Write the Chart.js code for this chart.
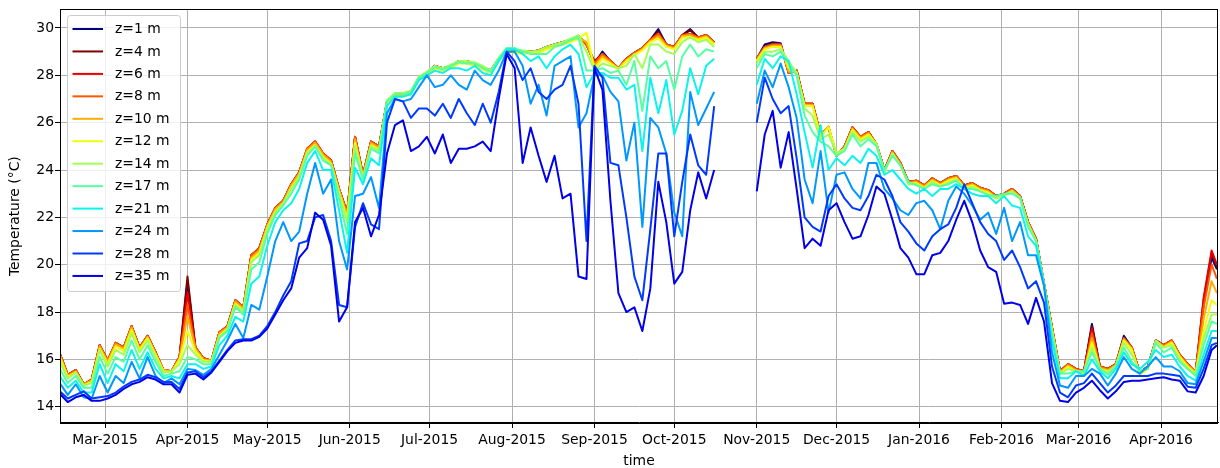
<!DOCTYPE html>
<html>
<head>
<meta charset="utf-8">
<title>Temperature profile</title>
<style>
  html, body { margin: 0; padding: 0; background: #fff; }
  #wrap { width: 1220px; height: 468px; }
</style>
<script src="https://cdn.jsdelivr.net/npm/chart.js@4.4.1/dist/chart.umd.min.js"></script>
</head>
<body>
<div id="wrap"><canvas id="plot" width="1220" height="468"></canvas></div>
<script>
// days counted from 1 Mar 2015 (sampled every 3 days, gap late Oct 2015)
const days = [
  -17, -14, -11, -8, -5, -2, 1, 4, 7, 10,
  13, 16, 19, 22, 25, 28, 31, 34, 37, 40,
  43, 46, 49, 52, 55, 58, 61, 64, 67, 70,
  73, 76, 79, 82, 85, 88, 91, 94, 97, 100,
  103, 106, 109, 112, 115, 118, 121, 124, 127, 130,
  133, 136, 139, 142, 145, 148, 151, 154, 157, 160,
  163, 166, 169, 172, 175, 178, 181, 184, 187, 190,
  193, 196, 199, 202, 205, 208, 211, 214, 217, 220,
  223, 226, 229,
  237,
  245, 248, 251, 254, 257, 260, 263, 266, 269, 272,
  275, 278, 281, 284, 287, 290, 293, 296, 299, 302,
  305, 308, 311, 314, 317, 320, 323, 326, 329, 332,
  335, 338, 341, 344, 347, 350, 353, 356, 359, 362,
  365, 368, 371, 374, 377, 380, 383, 386, 389, 392,
  395, 398, 401, 404, 407, 410, 413, 416, 418
];

const monthDays = [0, 31, 61, 92, 122, 153, 184, 214, 245, 275, 306, 337, 366, 397];
const monthLabels = ['Mar-2015', 'Apr-2015', 'May-2015', 'Jun-2015', 'Jul-2015', 'Aug-2015',
  'Sep-2015', 'Oct-2015', 'Nov-2015', 'Dec-2015', 'Jan-2016', 'Feb-2016', 'Mar-2016', 'Apr-2016'];
const tempTicks = [14, 16, 18, 20, 22, 24, 26, 28, 30];

const depths = ['z=1 m', 'z=4 m', 'z=6 m', 'z=8 m', 'z=10 m', 'z=12 m',
  'z=14 m', 'z=17 m', 'z=21 m', 'z=24 m', 'z=28 m', 'z=35 m'];
const colors = ['#000080', '#800000', '#e90000', '#ff5700', '#ffad00', '#ecff0b',
  '#a1ff56', '#56ffa1', '#0bf3ec', '#0097ff', '#003aff', '#0000e9'];

const z1 = [
  16.25, 15.35, 15.55, 14.95, 15.15, 16.6, 15.95, 16.7, 16.5, 17.4,
  16.5, 17.0, 16.3, 15.55, 15.5, 16.1, 19.3, 16.5, 16.05, 15.95,
  17.15, 17.4, 18.5, 18.2, 20.4, 20.7, 21.7, 22.4, 22.7, 23.4,
  23.9, 24.9, 25.2, 24.7, 24.4, 23.2, 22.2, 25.4, 23.8, 25.2,
  25.0, 26.9, 27.2, 27.2, 27.3, 27.9, 28.1, 28.4, 28.3, 28.4,
  28.6, 28.6, 28.5, 28.35, 28.2, 28.7, 29.1, 29.0, 29.0, 29.0,
  29.05, 29.2, 29.3, 29.4, 29.5, 29.65, 29.3, 28.5, 29.0, 28.6,
  28.3, 28.7, 28.95, 29.15, 29.5, 29.95, 29.3, 29.2, 29.7, 29.95,
  29.6, 29.7, 29.4,
  null,
  28.7, 29.3, 29.4, 29.35, 28.1, 28.2, 26.8, 26.8, 25.5, 25.8,
  24.6, 25.0, 25.8, 25.4, 25.6, 25.1, 24.0, 24.8, 24.3, 23.5,
  23.55, 23.35, 23.65, 23.45, 23.65, 23.75, 23.35, 23.45, 23.25, 23.15,
  22.9, 23.0, 23.2, 22.9, 21.8, 21.1, 19.2, 17.35, 15.5, 15.8,
  15.6, 15.5, 17.5, 15.7, 15.6, 15.8, 17.0, 16.5, 15.45, 15.7,
  16.8, 16.6, 16.8, 16.2, 15.8, 15.45, 18.3, 20.3, 19.8
];
const z4 = [
  16.25, 15.35, 15.55, 14.95, 15.15, 16.6, 15.95, 16.7, 16.5, 17.4,
  16.5, 17.0, 16.3, 15.55, 15.5, 16.1, 19.5, 16.5, 16.05, 15.95,
  17.15, 17.4, 18.5, 18.2, 20.4, 20.7, 21.7, 22.4, 22.7, 23.4,
  23.9, 24.9, 25.2, 24.7, 24.4, 23.2, 22.2, 25.4, 23.8, 25.2,
  25.0, 26.9, 27.2, 27.2, 27.3, 27.9, 28.1, 28.4, 28.3, 28.4,
  28.6, 28.6, 28.5, 28.35, 28.2, 28.7, 29.1, 29.0, 29.0, 29.0,
  29.05, 29.2, 29.3, 29.4, 29.5, 29.65, 29.3, 28.6, 28.9, 28.6,
  28.3, 28.7, 28.95, 29.15, 29.5, 29.85, 29.3, 29.2, 29.7, 29.9,
  29.6, 29.7, 29.4,
  null,
  28.7, 29.2, 29.35, 29.3, 28.1, 28.2, 26.8, 26.8, 25.5, 25.8,
  24.6, 25.0, 25.8, 25.4, 25.6, 25.1, 24.0, 24.8, 24.3, 23.5,
  23.55, 23.35, 23.65, 23.45, 23.65, 23.75, 23.35, 23.45, 23.25, 23.15,
  22.9, 23.0, 23.2, 22.9, 21.8, 21.1, 19.2, 17.35, 15.5, 15.8,
  15.6, 15.5, 17.4, 15.7, 15.6, 15.8, 16.9, 16.5, 15.45, 15.7,
  16.8, 16.6, 16.8, 16.2, 15.8, 15.45, 18.5, 20.5, 19.9
];
const z6 = [
  16.25, 15.35, 15.55, 14.95, 15.15, 16.6, 15.95, 16.7, 16.5, 17.4,
  16.5, 17.0, 16.3, 15.55, 15.5, 16.1, 18.8, 16.5, 16.05, 15.95,
  17.15, 17.4, 18.5, 18.2, 20.4, 20.7, 21.7, 22.4, 22.7, 23.4,
  23.9, 24.9, 25.2, 24.7, 24.4, 23.2, 22.2, 25.4, 23.8, 25.2,
  25.0, 26.9, 27.2, 27.2, 27.3, 27.9, 28.1, 28.4, 28.3, 28.4,
  28.6, 28.6, 28.5, 28.35, 28.2, 28.7, 29.1, 29.0, 29.0, 29.0,
  29.05, 29.2, 29.3, 29.4, 29.5, 29.65, 29.3, 28.55, 28.9, 28.6,
  28.3, 28.7, 28.95, 29.15, 29.5, 29.75, 29.3, 29.2, 29.7, 29.75,
  29.6, 29.7, 29.4,
  null,
  28.7, 29.2, 29.3, 29.3, 28.1, 28.2, 26.8, 26.8, 25.5, 25.8,
  24.6, 25.0, 25.8, 25.4, 25.6, 25.1, 24.0, 24.8, 24.3, 23.5,
  23.55, 23.35, 23.65, 23.45, 23.65, 23.75, 23.35, 23.45, 23.25, 23.15,
  22.9, 23.0, 23.2, 22.9, 21.8, 21.1, 19.2, 17.35, 15.5, 15.8,
  15.6, 15.5, 17.3, 15.7, 15.6, 15.8, 16.9, 16.5, 15.45, 15.7,
  16.8, 16.6, 16.8, 16.2, 15.8, 15.45, 18.6, 20.6, 20.0
];
const z8 = [
  16.25, 15.35, 15.55, 14.95, 15.15, 16.6, 15.95, 16.7, 16.5, 17.4,
  16.5, 17.0, 16.3, 15.55, 15.5, 16.1, 18.3, 16.5, 16.05, 15.95,
  17.15, 17.4, 18.5, 18.2, 20.4, 20.7, 21.7, 22.4, 22.7, 23.4,
  23.9, 24.9, 25.2, 24.7, 24.4, 23.2, 22.2, 25.4, 23.8, 25.2,
  25.0, 26.9, 27.2, 27.2, 27.3, 27.9, 28.1, 28.4, 28.3, 28.4,
  28.6, 28.6, 28.5, 28.35, 28.2, 28.7, 29.1, 29.0, 29.0, 29.0,
  29.05, 29.2, 29.3, 29.4, 29.5, 29.65, 29.3, 28.5, 28.9, 28.6,
  28.3, 28.7, 28.95, 29.15, 29.5, 29.75, 29.3, 29.2, 29.7, 29.75,
  29.6, 29.7, 29.4,
  null,
  28.7, 29.2, 29.3, 29.3, 28.1, 28.2, 26.8, 26.8, 25.5, 25.8,
  24.6, 25.0, 25.8, 25.4, 25.6, 25.1, 24.0, 24.8, 24.3, 23.5,
  23.55, 23.35, 23.65, 23.45, 23.65, 23.75, 23.35, 23.45, 23.25, 23.15,
  22.9, 23.0, 23.2, 22.9, 21.8, 21.1, 19.2, 17.35, 15.5, 15.8,
  15.6, 15.5, 17.1, 15.7, 15.6, 15.8, 16.9, 16.5, 15.45, 15.7,
  16.8, 16.6, 16.8, 16.2, 15.8, 15.45, 18.2, 20.0, 19.4
];
const z10 = [
  16.2, 15.3, 15.5, 14.95, 15.1, 16.55, 15.9, 16.65, 16.45, 17.35,
  16.45, 16.95, 16.25, 15.55, 15.5, 16.05, 17.8, 16.45, 16.0, 15.95,
  17.1, 17.35, 18.45, 18.15, 20.3, 20.6, 21.65, 22.35, 22.65, 23.35,
  23.85, 24.85, 25.15, 24.65, 24.35, 23.15, 22.1, 25.3, 23.75, 25.15,
  24.95, 26.85, 27.15, 27.15, 27.25, 27.85, 28.05, 28.35, 28.25, 28.35,
  28.55, 28.55, 28.45, 28.3, 28.15, 28.65, 29.05, 29.0, 28.95, 29.0,
  29.0, 29.15, 29.25, 29.35, 29.45, 29.6, 29.4, 28.4, 28.8, 28.55,
  28.3, 28.65, 28.9, 29.1, 29.45, 29.65, 29.25, 29.15, 29.65, 29.7,
  29.55, 29.65, 29.35,
  null,
  28.65, 29.15, 29.25, 29.25, 28.15, 28.15, 26.75, 26.75, 25.45, 25.85,
  24.6, 24.95, 25.75, 25.35, 25.55, 25.1, 23.95, 24.75, 24.25, 23.45,
  23.5, 23.3, 23.6, 23.4, 23.6, 23.7, 23.3, 23.4, 23.2, 23.1,
  22.85, 22.95, 23.15, 22.85, 21.75, 21.05, 19.15, 17.3, 15.45, 15.75,
  15.55, 15.45, 16.9, 15.65, 15.55, 15.75, 16.85, 16.45, 15.4, 15.65,
  16.75, 16.55, 16.75, 16.15, 15.75, 15.45, 17.7, 19.3, 18.8
];
const z12 = [
  16.1, 15.25, 15.45, 14.9, 15.05, 16.45, 15.8, 16.55, 16.35, 17.25,
  16.4, 16.9, 16.2, 15.5, 15.45, 16.0, 17.2, 16.35, 15.95, 15.9,
  17.0, 17.3, 18.35, 18.05, 20.2, 20.5, 21.55, 22.25, 22.55, 23.25,
  23.75, 24.75, 25.05, 24.55, 24.25, 23.05, 21.95, 25.15, 23.65, 25.05,
  24.85, 26.8, 27.1, 27.1, 27.2, 27.8, 28.0, 28.3, 28.2, 28.3,
  28.5, 28.5, 28.4, 28.25, 28.1, 28.6, 29.0, 28.95, 28.9, 28.95,
  28.95, 29.1, 29.2, 29.3, 29.4, 29.55, 29.8, 28.3, 28.7, 28.5,
  28.25, 28.6, 28.85, 29.05, 29.4, 29.55, 29.2, 29.1, 29.6, 29.6,
  29.5, 29.6, 29.3,
  null,
  28.6, 29.1, 29.2, 29.2, 28.3, 28.1, 26.7, 26.7, 25.4, 25.8,
  24.7, 24.9, 25.7, 25.3, 25.5, 25.1, 23.9, 24.7, 24.2, 23.4,
  23.45, 23.25, 23.55, 23.35, 23.55, 23.65, 23.25, 23.35, 23.15, 23.05,
  22.8, 22.9, 23.1, 22.8, 21.7, 21.0, 19.1, 17.25, 15.4, 15.7,
  15.5, 15.4, 16.7, 15.6, 15.5, 15.7, 16.8, 16.4, 15.35, 15.6,
  16.7, 16.5, 16.7, 16.1, 15.7, 15.4, 17.2, 18.5, 18.3
];
const z14 = [
  15.9, 15.2, 15.45, 14.9, 15.0, 16.4, 15.7, 16.4, 16.2, 17.1,
  16.3, 16.8, 16.1, 15.45, 15.5, 15.8, 16.6, 16.2, 15.9, 15.9,
  16.95, 17.25, 18.3, 18.0, 20.1, 20.4, 21.5, 22.2, 22.6, 23.2,
  23.7, 24.7, 25.0, 24.5, 24.2, 23.0, 21.8, 25.0, 23.6, 25.0,
  24.8, 26.95, 27.25, 27.25, 27.35, 27.95, 28.15, 28.4, 28.3, 28.45,
  28.6, 28.6, 28.55, 28.4, 28.2, 28.75, 29.15, 29.1, 29.05, 29.0,
  29.05, 29.2, 29.3, 29.4, 29.55, 29.7, 29.0, 28.2, 28.5, 28.4,
  28.3, 28.4, 28.9, 28.3, 29.3, 29.3, 29.0, 28.9, 29.4, 29.6,
  29.4, 29.5, 29.2,
  null,
  28.5, 29.0, 29.0, 29.1, 28.6, 28.1, 26.6, 26.3, 25.3, 25.5,
  24.7, 24.9, 25.6, 25.2, 25.4, 25.1, 23.9, 24.7, 24.2, 23.4,
  23.4, 23.2, 23.5, 23.3, 23.45, 23.6, 23.2, 23.3, 23.1, 22.95,
  22.8, 22.95, 23.1, 22.85, 21.7, 21.0, 19.2, 17.2, 15.4, 15.6,
  15.5, 15.45, 16.5, 15.6, 15.45, 15.75, 16.7, 16.2, 15.5, 15.6,
  16.8, 16.5, 16.6, 16.0, 15.6, 15.4, 16.9, 17.9, 17.9
];
const z17 = [
  15.6, 15.0, 15.3, 14.8, 14.8, 16.1, 15.4, 16.1, 15.9, 16.8,
  16.0, 16.6, 15.9, 15.3, 15.4, 15.5, 16.1, 16.0, 15.8, 15.8,
  16.9, 17.2, 18.2, 17.9, 19.8, 20.1, 21.3, 22.1, 22.5, 23.0,
  23.6, 24.6, 25.0, 24.4, 24.2, 22.8, 21.3, 24.7, 23.6, 24.9,
  24.7, 26.9, 27.2, 27.2, 27.3, 27.9, 28.1, 28.35, 28.25, 28.4,
  28.55, 28.5, 28.5, 28.3, 28.15, 28.7, 29.15, 29.15, 29.0, 28.9,
  28.9, 28.9, 29.2, 29.3, 29.5, 29.6, 28.2, 28.2, 28.3, 28.1,
  28.2, 27.6, 28.6, 26.5, 28.8, 28.3, 28.6, 27.4, 28.8, 29.3,
  28.8, 29.1, 29.0,
  null,
  28.3, 28.9, 28.8, 29.0, 28.5, 28.0, 26.3, 25.6, 25.2, 25.0,
  24.6, 24.8, 25.5, 25.0, 25.3, 25.0, 24.0, 24.6, 24.2, 23.5,
  23.35, 23.2, 23.4, 23.3, 23.4, 23.55, 23.2, 23.2, 23.1, 22.95,
  22.9, 23.0, 23.0, 22.8, 21.6, 21.0, 19.2, 17.1, 15.4, 15.4,
  15.5, 15.5, 16.3, 15.6, 15.35, 15.7, 16.5, 15.9, 15.5, 15.6,
  16.7, 16.3, 16.5, 15.9, 15.6, 15.3, 16.6, 17.6, 17.5
];
const z21 = [
  15.3, 14.8, 15.1, 14.6, 14.6, 15.8, 15.0, 15.8, 15.5, 16.4,
  15.6, 16.3, 15.6, 15.2, 15.3, 15.2, 15.8, 15.8, 15.6, 15.7,
  16.6, 17.0, 17.8, 17.6, 19.2, 19.5, 20.8, 21.8, 22.3, 22.6,
  23.2, 24.3, 24.8, 24.0, 24.0, 22.3, 20.5, 24.1, 23.4, 24.5,
  24.2, 26.7, 27.1, 27.1, 27.2, 27.8, 28.0, 28.2, 28.1, 28.3,
  28.3, 28.2, 28.4, 28.1, 28.0, 28.6, 29.1, 29.1, 28.9, 28.6,
  28.8, 28.3, 28.8, 29.1, 29.3, 28.9, 27.5, 28.1, 28.1, 27.9,
  27.9, 27.4, 27.6, 24.8, 27.9, 26.4, 27.8, 25.5, 26.5, 28.3,
  27.2, 28.4, 28.7,
  null,
  27.6, 28.7, 28.3, 28.8, 28.6, 27.2, 25.6, 24.1, 25.9, 24.0,
  24.5, 24.2, 24.6, 24.3, 24.9, 24.6, 23.8, 24.0, 23.6, 23.2,
  23.0, 23.2, 22.9, 23.2, 23.2, 23.4, 23.2, 23.0, 22.9, 22.9,
  22.6, 22.9, 22.5, 22.4, 21.2, 20.8, 19.15, 16.8, 15.2, 15.2,
  15.5, 15.3, 16.0, 15.5, 15.2, 15.6, 16.3, 15.8, 15.6, 15.9,
  16.4, 16.1, 16.2, 15.7, 15.3, 15.1, 16.2, 17.2, 17.2
];
const z24 = [
  15.0, 14.5, 14.95, 14.4, 14.35, 15.3, 14.6, 15.3, 15.0, 15.9,
  15.2, 16.1, 15.3, 15.0, 15.2, 14.95, 15.6, 15.55, 15.35, 15.6,
  16.2, 16.8, 17.5, 16.9, 18.3, 18.1, 19.5, 21.0, 21.8, 21.0,
  21.4, 23.0, 24.3, 23.0, 23.6, 21.0, 19.8, 22.9, 23.0, 23.7,
  22.4, 26.4, 27.0, 26.9, 27.0, 27.5, 28.0, 27.5, 27.6, 28.0,
  27.6, 27.4, 28.2, 27.8, 27.6, 28.2, 29.0, 29.0, 28.4, 26.8,
  27.6, 26.3, 28.4, 28.6, 28.8, 25.8, 26.4, 28.0, 28.0, 27.3,
  26.9, 24.4, 26.0, 21.6, 26.2, 25.8, 24.7, 22.2, 21.2, 27.3,
  25.9, 26.6, 27.3,
  null,
  26.8, 28.2, 27.5, 28.5, 27.5, 26.2, 23.6, 22.6, 24.8, 22.2,
  23.8, 23.9, 23.2, 22.8, 24.3, 24.3, 23.2, 22.8, 22.3, 22.1,
  22.6, 22.7, 22.3, 21.5, 22.7, 23.3, 23.0, 22.5, 21.9, 22.2,
  21.3, 22.4, 21.0, 21.8, 20.4, 20.4, 19.1, 16.3, 14.9, 14.8,
  15.3, 15.3, 15.6, 15.4, 14.9, 15.4, 16.1, 15.6, 15.4, 15.7,
  16.1, 15.7, 15.7, 15.5, 15.0, 14.95, 15.9, 16.9, 16.9
];
const z28 = [
  14.65, 14.35, 14.5, 14.65, 14.35, 14.4, 14.45, 14.6, 14.85, 15.05,
  15.15, 15.35, 15.25, 15.05, 15.05, 14.75, 15.45, 15.5, 15.25, 15.5,
  15.95, 16.4, 16.8, 16.85, 16.85, 17.0, 17.4, 18.0, 18.7, 19.3,
  20.9, 21.0, 22.0, 22.1, 21.0, 18.3, 18.2, 21.6, 22.6, 21.7,
  21.5, 26.0, 27.0, 26.9, 26.2, 26.6, 26.6, 26.3, 26.8, 26.2,
  27.0, 26.4, 25.9, 26.8, 26.0, 27.3, 29.0, 28.6, 27.8, 28.3,
  27.3, 27.0, 27.4, 27.6, 28.4, 26.8, 21.0, 28.4, 27.9, 24.3,
  24.2, 22.0, 19.5, 18.5, 21.5, 24.7, 24.7, 21.2, 23.5, 25.5,
  24.2, 23.8, 26.7,
  null,
  26.0, 27.9, 27.0, 26.4, 26.7, 24.5, 22.0, 21.6, 21.4, 22.9,
  23.4, 22.8, 22.4, 22.3, 22.9, 23.8, 23.6, 22.9, 21.8, 21.4,
  20.9, 20.6, 21.2, 21.5, 21.7, 22.4, 23.4, 22.6, 21.8, 21.3,
  21.0, 20.2, 20.6, 19.9, 19.0, 19.3, 18.4, 15.7, 14.6, 14.4,
  14.9, 15.0, 15.4, 15.0, 14.6, 14.9, 15.3, 15.3, 15.3, 15.3,
  15.4, 15.4, 15.35, 15.3, 14.85, 14.8, 15.6, 16.6, 16.7
];
const z35 = [
  14.55, 14.2, 14.4, 14.5, 14.25, 14.25, 14.35, 14.5, 14.75, 14.95,
  15.05, 15.25, 15.15, 14.95, 14.95, 14.6, 15.35, 15.4, 15.15, 15.45,
  15.9, 16.35, 16.7, 16.8, 16.8, 16.95, 17.3, 17.9, 18.5, 19.0,
  20.3, 20.7, 22.2, 21.9, 20.8, 17.6, 18.2, 21.8, 22.4, 21.2,
  22.1, 24.7, 25.9, 26.1, 24.8, 25.0, 25.4, 24.7, 25.5, 24.3,
  24.9, 24.9, 25.0, 25.2, 24.8, 27.0, 28.9, 28.3, 24.3, 25.8,
  24.6, 23.5, 24.6, 22.8, 23.0, 19.5, 19.4, 28.3, 27.4, 22.7,
  18.8, 18.0, 18.2, 17.2, 19.0, 23.5, 21.8, 19.2, 19.7, 22.3,
  23.9, 22.8, 24.0,
  null,
  23.1, 25.5, 26.5, 24.1, 25.6, 23.2, 20.7, 21.1, 20.8, 22.3,
  22.6, 21.8, 21.1, 21.2, 22.1, 23.3, 23.0, 21.9, 20.7, 20.3,
  19.6, 19.6, 20.4, 20.5, 21.0, 21.9, 22.7, 21.8, 20.6, 19.9,
  19.7, 18.35, 18.4, 18.3, 17.5, 18.6, 17.6, 15.0, 14.25, 14.2,
  14.6, 14.8, 15.1, 14.7, 14.35, 14.65, 15.05, 15.1, 15.1, 15.15,
  15.2, 15.25, 15.15, 15.1, 14.65, 14.6, 15.3, 16.4, 16.6
];

const series = [z1, z4, z6, z8, z10, z12, z14, z17, z21, z24, z28, z35];

// matplotlib-like legend box in the upper left corner
const legendBox = {
  id: 'legendBox',
  afterDraw(chart) {
    const ctx = chart.ctx;
    ctx.save();
    ctx.beginPath();
    ctx.roundRect(67.5, 15.5, 113, 276, 3);
    ctx.fillStyle = 'rgba(255,255,255,0.8)';
    ctx.fill();
    ctx.strokeStyle = '#cccccc';
    ctx.lineWidth = 1;
    ctx.stroke();
    ctx.font = '13.9px "DejaVu Sans"';
    ctx.textBaseline = 'middle';
    ctx.textAlign = 'left';
    chart.data.datasets.forEach((ds, i) => {
      const y = 29 + i * 22.45;
      ctx.strokeStyle = ds.borderColor;
      ctx.lineWidth = 2;
      ctx.beginPath();
      ctx.moveTo(72.5, y);
      ctx.lineTo(103, y);
      ctx.stroke();
      ctx.fillStyle = '#000';
      ctx.fillText(ds.label, 115, y + 0.5);
    });
    ctx.restore();
  }
};

// four spines drawn above the lines
const frame = {
  id: 'frame',
  afterDatasetsDraw(chart) {
    const {ctx, chartArea: a} = chart;
    ctx.save();
    ctx.strokeStyle = '#000';
    ctx.lineWidth = 1;
    ctx.strokeRect(Math.round(a.left) + 0.5, Math.round(a.top) + 0.5,
      Math.round(a.right - a.left) - 1, Math.round(a.bottom - a.top));
    ctx.restore();
  }
};

Chart.defaults.font.family = '"DejaVu Sans", sans-serif';
Chart.defaults.font.size = 13.9;
Chart.defaults.color = '#000';

const ctx = document.getElementById('plot').getContext('2d');
new Chart(ctx, {
  type: 'line',
  data: {
    datasets: series.map((vals, i) => ({
      label: depths[i],
      data: days.map((d, j) => ({ x: d, y: vals[j] })),
      borderColor: colors[i],
      backgroundColor: colors[i],
      borderWidth: 2,
      pointRadius: 0,
      fill: false,
      tension: 0,
      spanGaps: false,
      borderJoinStyle: 'round',
      order: series.length - 1 - i
    }))
  },
  options: {
    responsive: false,
    animation: false,
    devicePixelRatio: 1,
    layout: { padding: { top: 8, right: 2, left: 0, bottom: 0 } },
    plugins: { legend: { display: false }, tooltip: { enabled: false } },
    scales: {
      x: {
        type: 'linear',
        min: -16.92,
        max: 418.4,
        afterBuildTicks: (scale) => { scale.ticks = monthDays.map(v => ({ value: v })); },
        afterFit: (scale) => { scale.height = 45; },
        ticks: {
          autoSkip: false,
          maxRotation: 0,
          padding: 4,
          callback: (value, index) => monthLabels[index]
        },
        grid: { color: '#b0b0b0', lineWidth: 1, tickColor: '#000', tickLength: 5, tickWidth: 1 },
        border: { color: '#000', width: 1 },
        title: { display: true, text: 'time', padding: { top: 0, bottom: -2 } }
      },
      y: {
        min: 13.314,
        max: 30.787,
        afterBuildTicks: (scale) => { scale.ticks = tempTicks.map(v => ({ value: v })); },
        afterFit: (scale) => { scale.width = 60; },
        ticks: { padding: 1 },
        grid: { color: '#b0b0b0', lineWidth: 1, tickColor: '#000', tickLength: 5, tickWidth: 1 },
        border: { color: '#000', width: 1 },
        title: { display: true, text: 'Temperature (°C)', padding: { top: 7, bottom: 0 } }
      }
    }
  },
  plugins: [frame, legendBox]
});
</script>
</body>
</html>
